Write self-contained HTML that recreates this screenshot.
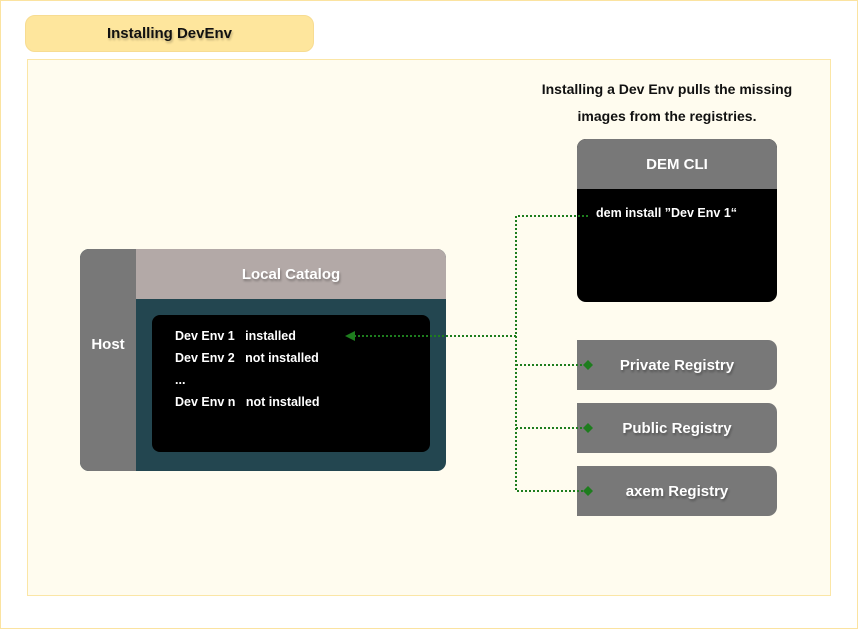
<!DOCTYPE html>
<html><head><style>
body{margin:0;width:858px;height:629px;position:relative;background:#fff;font-family:"Liberation Sans",sans-serif;overflow:hidden}
.a{position:absolute;box-sizing:border-box}
.t{display:flex;align-items:center;justify-content:center;font-weight:bold}
</style></head><body>
<div class="a" style="left:0;top:0;width:858px;height:629px;border:1px solid #fbe3a0"></div>
<div class="a t" style="left:25px;top:15px;width:289px;height:37px;background:#fee69d;border:1px solid #f7dc92;border-radius:10px;font-size:15px;color:#111;text-shadow:1px 2px 2px rgba(0,0,0,.25)">Installing DevEnv</div>
<div class="a" style="left:27px;top:59px;width:804px;height:537px;background:#fffcef;border:1px solid #fbe6a6"></div>
<div class="a t" style="left:502px;top:76px;width:330px;font-size:14px;line-height:27px;color:#111;text-align:center">Installing a Dev Env pulls the missing<br>images from the registries.</div>

<div class="a" style="left:80px;top:249px;width:366px;height:222px;border-radius:9px;overflow:hidden;background:#234650">
 <div class="a t" style="left:0;top:0;width:56px;height:222px;padding-bottom:32px;background:#787878;color:#fff;font-size:15px">Host</div>
 <div class="a t" style="left:56px;top:0;width:310px;height:50px;background:#b3a9a7;color:#fff;font-size:15px;text-shadow:1px 2px 2px rgba(0,0,0,.3)">Local Catalog</div>
 <div class="a" style="left:72px;top:66px;width:278px;height:137px;background:#000;border-radius:8px;color:#fff;font-size:12.5px;font-weight:bold;line-height:22px;padding:10px 0 0 23px;white-space:pre">Dev Env 1   installed
Dev Env 2   not installed
...
Dev Env n   not installed</div>
</div>

<div class="a" style="left:577px;top:139px;width:200px;height:163px;background:#000;border-radius:9px;overflow:hidden">
 <div class="a t" style="left:0;top:0;width:200px;height:50px;background:#787878;color:#fff;font-size:15px">DEM CLI</div>
 <div class="a" style="left:19px;top:67px;color:#fff;font-size:12.5px;font-weight:bold">dem install ”Dev Env 1“</div>
</div>

<div class="a t" style="left:577px;top:340px;width:200px;height:50px;background:#787878;border-radius:0 9px 9px 0;color:#fff;font-size:15px;text-shadow:1px 2px 2px rgba(0,0,0,.3)">Private Registry</div>
<div class="a t" style="left:577px;top:403px;width:200px;height:50px;background:#787878;border-radius:0 9px 9px 0;color:#fff;font-size:15px;text-shadow:1px 2px 2px rgba(0,0,0,.3)">Public Registry</div>
<div class="a t" style="left:577px;top:466px;width:200px;height:50px;background:#787878;border-radius:0 9px 9px 0;color:#fff;font-size:15px;text-shadow:1px 2px 2px rgba(0,0,0,.3)">axem Registry</div>

<svg class="a" style="left:0;top:0" width="858" height="629">
<g stroke="#1e7d1e" stroke-width="2" stroke-dasharray="2 2" fill="none">
<path d="M588 216H516V491H584M516 365H584M516 428H584M516 336H354"/>
</g>
<g fill="#1e7d1e">
<path d="M345 336L355 331V341Z"/>
<path d="M588 360L593 365L588 370L583 365Z"/>
<path d="M588 423L593 428L588 433L583 428Z"/>
<path d="M588 486L593 491L588 496L583 491Z"/>
</g>
</svg>
</body></html>
